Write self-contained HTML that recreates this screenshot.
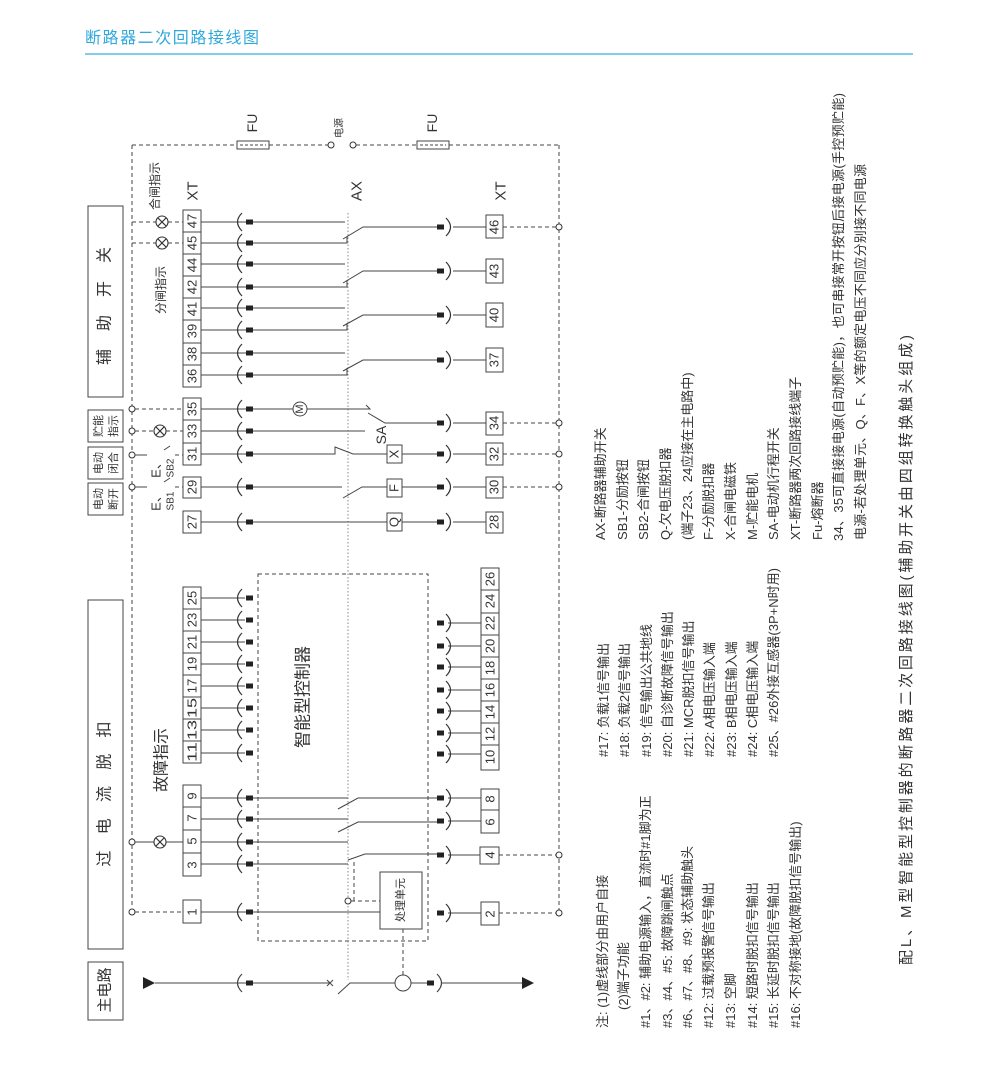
<!DOCTYPE html>
<html><head><meta charset="utf-8"><style>
html,body{margin:0;padding:0;background:#fff;}
body{width:1007px;height:1078px;overflow:hidden;position:relative;}
svg{position:absolute;left:0;top:0;}
text{font-family:"Liberation Sans","Noto Sans CJK SC",sans-serif;fill:#333;}
</style></head><body>
<svg width="1007" height="1078" viewBox="0 0 1007 1078" xmlns="http://www.w3.org/2000/svg">
<defs>
<g id="lc"><path d="M242,-9 Q233,0 242,9" fill="none" stroke="#333" stroke-width="1.2"/><rect x="246" y="-2.5" width="7" height="5" fill="#222"/></g>
<g id="rc"><path d="M446,-9 Q455,0 446,9" fill="none" stroke="#333" stroke-width="1.2"/><rect x="437" y="-2.5" width="7" height="5" fill="#222"/></g>
<g id="lamp"><circle r="6" fill="#fff" stroke="#333" stroke-width="1.1"/><path d="M-4.2,-4.2L4.2,4.2M-4.2,4.2L4.2,-4.2" stroke="#333" stroke-width="1.1"/></g>
<circle id="oc" r="3" fill="#fff" stroke="#333" stroke-width="1"/>
</defs>

<text x="85" y="43" font-size="16" style="fill:#2fa8dc" textLength="174" lengthAdjust="spacing">断路器二次回路接线图</text>
<line x1="85" y1="54" x2="913" y2="54" stroke="#3aaee0" stroke-width="1.2"/>

<g stroke="#444" stroke-width="1" fill="none">
<g stroke-dasharray="4,3">
<line x1="132" y1="145" x2="237" y2="145"/><line x1="269" y1="145" x2="328" y2="145"/>
<line x1="356" y1="145" x2="417" y2="145"/><line x1="449" y1="145" x2="559" y2="145"/>
<line x1="132" y1="145" x2="132" y2="907"/><line x1="559" y1="145" x2="559" y2="910"/>
<line x1="132" y1="222" x2="156" y2="222"/><line x1="168" y1="222" x2="183" y2="222"/>
<line x1="132" y1="243" x2="156" y2="243"/><line x1="168" y1="243" x2="183" y2="243"/>
<line x1="135" y1="409" x2="183" y2="409"/>
<line x1="135" y1="431" x2="154" y2="431"/><line x1="166" y1="431" x2="183" y2="431"/>
<line x1="175" y1="455" x2="183" y2="455"/><line x1="175" y1="487" x2="183" y2="487"/>
<line x1="135" y1="912" x2="183" y2="912"/>
<line x1="503" y1="227" x2="556" y2="227"/><line x1="503" y1="423" x2="556" y2="423"/>
<line x1="503" y1="454" x2="556" y2="454"/><line x1="503" y1="487" x2="556" y2="487"/>
<line x1="499" y1="855" x2="556" y2="855"/><line x1="499" y1="913" x2="556" y2="913"/>
<rect x="258" y="574" width="170" height="367"/>
<line x1="354" y1="862" x2="354" y2="901"/><line x1="351" y1="901" x2="380" y2="901"/>
<line x1="403" y1="929" x2="403" y2="975"/>
</g>
<line x1="348" y1="213" x2="348" y2="980" stroke="#888" stroke-dasharray="1.5,2"/>
<rect x="237" y="141" width="32" height="8" fill="#fff"/><line x1="240" y1="145" x2="266" y2="145" stroke-dasharray="3,2"/>
<rect x="417" y="141" width="32" height="8" fill="#fff"/><line x1="420" y1="145" x2="446" y2="145" stroke-dasharray="3,2"/>

<rect x="88" y="206" width="35" height="191"/>
<rect x="88" y="410" width="35" height="32"/>
<rect x="88" y="447" width="35" height="32"/>
<rect x="88" y="483" width="35" height="32"/>
<rect x="88" y="600" width="35" height="349"/>
<rect x="88" y="962" width="35" height="58"/>

<rect x="183" y="210" width="18" height="177" fill="#fff"/>
<path d="M183,232H201M183,254H201M183,276H201M183,298H201M183,320H201M183,343H201M183,365H201"/>
<rect x="183" y="398" width="18" height="67"/><path d="M183,420H201M183,443H201"/>
<rect x="183" y="477" width="18" height="21"/>
<rect x="183" y="511" width="18" height="22"/>
<rect x="183" y="587" width="18" height="176"/>
<path d="M183,609H201M183,631H201M183,653H201M183,675H201M183,697H201M183,719H201M183,741H201"/>
<rect x="183" y="785" width="18" height="91"/><path d="M183,807H201M183,830H201M183,853H201"/>
<rect x="183" y="900" width="18" height="23"/>
<rect x="486" y="215" width="17" height="23"/>
<rect x="486" y="259" width="17" height="24"/>
<rect x="486" y="303" width="17" height="24"/>
<rect x="486" y="348" width="17" height="24"/>
<rect x="486" y="412" width="17" height="23"/>
<rect x="486" y="443" width="17" height="22"/>
<rect x="486" y="477" width="17" height="21"/>
<rect x="486" y="512" width="17" height="21"/>
<rect x="481" y="568" width="18" height="202"/>
<path d="M481,590H499M481,613H499M481,635H499M481,657H499M481,679H499M481,701H499M481,723H499M481,745H499"/>
<rect x="481" y="789" width="18" height="44"/><path d="M481,810H499"/>
<rect x="480" y="847" width="19" height="17"/>
<rect x="481" y="902" width="18" height="23"/>

<path d="M201,222H345M201,243H347V236M343,239L363,227H438M453,227H486"/>
<path d="M201,264H345M201,287H347V280M343,283L363,271H438M453,271H486"/>
<path d="M201,308H345M201,330H347V323M343,326L363,315H438M453,315H486"/>
<path d="M201,353H345M201,375H347V368M343,371L363,360H438M453,360H486"/>
<path d="M201,409H293M307,409H370L366,405M368,413L385,423H438M453,423H486"/>
<path d="M201,431H365"/>
<path d="M201,454H335V447L353,454H387M402,454H438M453,454H486"/>
<path d="M201,487H342M343,498L362,487H387M402,487H438M453,487H486"/>
<path d="M201,522H387M402,522H438M453,522H486"/>
<circle cx="300" cy="409" r="7"/>
<rect x="387" y="445" width="15" height="18" fill="#fff"/>
<rect x="387" y="479" width="15" height="18" fill="#fff"/>
<rect x="387" y="513" width="15" height="18" fill="#fff"/>
<path d="M135,455H147M135,487H147M164,450L170,446M164,482L170,478"/>

<path d="M201,598H245M201,620H245M201,642H245M201,664H245M201,686H245M201,708H245M201,730H245M201,753H245"/>
<path d="M448,623H481M448,646H481M448,667H481M448,690H481M448,711H481M448,733H481M448,754H481"/>
<path d="M201,798H348M338,809L358,798H437M448,798H481"/>
<path d="M201,819H348M338,832L358,822H437M448,821H481"/>
<path d="M135,842H154M166,842H183M201,842H348"/>
<path d="M201,864H348M348,860L365,854H437M448,855H480"/>
<path d="M201,912H380M448,913H481"/>
<rect x="380" y="872" width="42" height="57" fill="#fff"/>

<path d="M155,983H330M327,980L333,986M327,986L333,980M338,994L350,983H395M411,983H427M442,983H522"/>
<circle cx="403" cy="983" r="8"/>
<path d="M242,974 Q233,983 242,992M437,974 Q446,983 437,992" stroke-width="1.2"/>
</g>
<rect x="246" y="980.5" width="7" height="5" fill="#222"/>
<rect x="427" y="980.5" width="7" height="5" fill="#222"/>
<path d="M143,977L155,983L143,989Z" fill="#222"/>
<path d="M522,977L534,983L522,989Z" fill="#222"/>

<use href="#lc" y="222"/><use href="#lc" y="243"/><use href="#lc" y="264"/><use href="#lc" y="287"/>
<use href="#lc" y="308"/><use href="#lc" y="330"/><use href="#lc" y="353"/><use href="#lc" y="375"/>
<use href="#lc" y="409"/><use href="#lc" y="431"/><use href="#lc" y="454"/><use href="#lc" y="487"/><use href="#lc" y="522"/>
<use href="#lc" y="598"/><use href="#lc" y="620"/><use href="#lc" y="642"/><use href="#lc" y="664"/>
<use href="#lc" y="686"/><use href="#lc" y="708"/><use href="#lc" y="730"/><use href="#lc" y="753"/>
<use href="#lc" y="798"/><use href="#lc" y="819"/><use href="#lc" y="842"/><use href="#lc" y="864"/><use href="#lc" y="912"/>
<use href="#rc" y="227"/><use href="#rc" y="271"/><use href="#rc" y="315"/><use href="#rc" y="360"/>
<use href="#rc" y="423"/><use href="#rc" y="454"/><use href="#rc" y="487"/><use href="#rc" y="522"/>
<use href="#rc" y="623"/><use href="#rc" y="646"/><use href="#rc" y="667"/><use href="#rc" y="690"/>
<use href="#rc" y="711"/><use href="#rc" y="733"/><use href="#rc" y="754"/>
<use href="#rc" y="798"/><use href="#rc" y="821"/><use href="#rc" y="855"/><use href="#rc" y="913"/>
<use href="#lamp" x="162" y="222"/><use href="#lamp" x="162" y="243"/>
<use href="#lamp" x="160" y="431"/><use href="#lamp" x="160" y="842"/>
<use href="#oc" x="331" y="145"/><use href="#oc" x="353" y="145"/>
<use href="#oc" x="132" y="409"/><use href="#oc" x="132" y="431"/><use href="#oc" x="132" y="455"/><use href="#oc" x="132" y="487"/>
<use href="#oc" x="132" y="842"/><use href="#oc" x="132" y="912"/>
<use href="#oc" x="559" y="227"/><use href="#oc" x="559" y="423"/><use href="#oc" x="559" y="454"/><use href="#oc" x="559" y="487"/>
<use href="#oc" x="559" y="855"/><use href="#oc" x="559" y="913"/>
<use href="#oc" x="348" y="901"/>

<g text-anchor="middle" dominant-baseline="central" font-size="13">
<text transform="translate(192,221) rotate(-90)">47</text>
<text transform="translate(192,243) rotate(-90)">45</text>
<text transform="translate(192,265) rotate(-90)">44</text>
<text transform="translate(192,287) rotate(-90)">42</text>
<text transform="translate(192,309) rotate(-90)">41</text>
<text transform="translate(192,331) rotate(-90)">39</text>
<text transform="translate(192,354) rotate(-90)">38</text>
<text transform="translate(192,376) rotate(-90)">36</text>
<text transform="translate(192,409) rotate(-90)">35</text>
<text transform="translate(192,431) rotate(-90)">33</text>
<text transform="translate(192,454) rotate(-90)">31</text>
<text transform="translate(192,487) rotate(-90)">29</text>
<text transform="translate(192,522) rotate(-90)">27</text>
<text transform="translate(494,227) rotate(-90)">46</text>
<text transform="translate(494,271) rotate(-90)">43</text>
<text transform="translate(494,315) rotate(-90)">40</text>
<text transform="translate(494,360) rotate(-90)">37</text>
<text transform="translate(494,423) rotate(-90)">34</text>
<text transform="translate(494,454) rotate(-90)">32</text>
<text transform="translate(494,487) rotate(-90)">30</text>
<text transform="translate(494,522) rotate(-90)">28</text>
<text transform="translate(192,598) rotate(-90)">25</text>
<text transform="translate(192,620) rotate(-90)">23</text>
<text transform="translate(192,642) rotate(-90)">21</text>
<text transform="translate(192,664) rotate(-90)">19</text>
<text transform="translate(192,686) rotate(-90)">17</text>
<text transform="translate(192,708) rotate(-90)" textLength="20" lengthAdjust="spacingAndGlyphs">15</text>
<text transform="translate(192,730) rotate(-90)" textLength="20" lengthAdjust="spacingAndGlyphs">13</text>
<text transform="translate(192,752) rotate(-90)" textLength="20" lengthAdjust="spacingAndGlyphs">11</text>
<text transform="translate(192,796) rotate(-90)">9</text>
<text transform="translate(192,818) rotate(-90)">7</text>
<text transform="translate(192,841) rotate(-90)">5</text>
<text transform="translate(192,865) rotate(-90)">3</text>
<text transform="translate(192,912) rotate(-90)">1</text>
<text transform="translate(490,579) rotate(-90)">26</text>
<text transform="translate(490,601) rotate(-90)">24</text>
<text transform="translate(490,623) rotate(-90)">22</text>
<text transform="translate(490,646) rotate(-90)">20</text>
<text transform="translate(490,668) rotate(-90)">18</text>
<text transform="translate(490,690) rotate(-90)">16</text>
<text transform="translate(490,712) rotate(-90)">14</text>
<text transform="translate(490,734) rotate(-90)">12</text>
<text transform="translate(490,757) rotate(-90)">10</text>
<text transform="translate(490,799) rotate(-90)">8</text>
<text transform="translate(490,822) rotate(-90)">6</text>
<text transform="translate(490,855) rotate(-90)">4</text>
<text transform="translate(490,914) rotate(-90)">2</text>
<text transform="translate(394,454) rotate(-90)">X</text>
<text transform="translate(394,488) rotate(-90)">F</text>
<text transform="translate(394,522) rotate(-90)">Q</text>
<text transform="translate(300,409) rotate(-90)" font-size="11">M</text>
<text transform="translate(381,435) rotate(-90)" font-size="14">SA</text>
<text transform="translate(193,191) rotate(-90)" font-size="15">XT</text>
<text transform="translate(357,191) rotate(-90)" font-size="15">AX</text>
<text transform="translate(501,191) rotate(-90)" font-size="15">XT</text>
<text transform="translate(252,123) rotate(-90)" font-size="14">FU</text>
<text transform="translate(432,123) rotate(-90)" font-size="14">FU</text>
<text transform="translate(340,128) rotate(-90)" font-size="10">电源</text>
<text transform="translate(155,186) rotate(-90)" font-size="12">合闸指示</text>
<text transform="translate(161,290) rotate(-90)" font-size="12">分闸指示</text>
<text transform="translate(162,760) rotate(-90)" font-size="16">故障指示</text>
<text transform="translate(303,697) rotate(-90)" font-size="17">智能型控制器</text>
<text transform="translate(401,900) rotate(-90)" font-size="11">处理单元</text>
<text transform="translate(105,306) rotate(-90)" font-size="16" textLength="118" lengthAdjust="spacing">辅 助 开 关</text>
<text transform="translate(105,794) rotate(-90)" font-size="16" textLength="145" lengthAdjust="spacing">过 电 流 脱 扣</text>
<text transform="translate(105,990) rotate(-90)" font-size="15">主电路</text>
<text transform="translate(99,426) rotate(-90)" font-size="11">贮能</text>
<text transform="translate(114,426) rotate(-90)" font-size="11">指示</text>
<text transform="translate(99,463) rotate(-90)" font-size="11">电动</text>
<text transform="translate(114,463) rotate(-90)" font-size="11">闭合</text>
<text transform="translate(99,499) rotate(-90)" font-size="11">电动</text>
<text transform="translate(114,499) rotate(-90)" font-size="11">断开</text>
<text transform="translate(156,467) rotate(-90)" font-size="13">E、</text>
<text transform="translate(171,468) rotate(-90)" font-size="10">SB2</text>
<text transform="translate(156,500) rotate(-90)" font-size="13">E、</text>
<text transform="translate(171,501) rotate(-90)" font-size="10">SB1</text>
</g>

<g font-size="13">
<text transform="translate(605,540) rotate(-90)">AX-断路器辅助开关</text>
<text transform="translate(627,540) rotate(-90)">SB1-分励按钮</text>
<text transform="translate(648,540) rotate(-90)">SB2-合闸按钮</text>
<text transform="translate(670,540) rotate(-90)">Q-欠电压脱扣器</text>
<text transform="translate(692,540) rotate(-90)">(端子23、24应接在主电路中)</text>
<text transform="translate(713,540) rotate(-90)">F-分励脱扣器</text>
<text transform="translate(735,540) rotate(-90)">X-合闸电磁铁</text>
<text transform="translate(757,540) rotate(-90)">M-贮能电机</text>
<text transform="translate(778,540) rotate(-90)">SA-电动机行程开关</text>
<text transform="translate(800,540) rotate(-90)">XT-断路器两次回路接线端子</text>
<text transform="translate(822,540) rotate(-90)">Fu-熔断器</text>
<text transform="translate(843,541) rotate(-90)" textLength="448" lengthAdjust="spacing">34、35可直接接电源(自动预贮能)，也可串接常开按钮后接电源(手控预贮能)</text>
<text transform="translate(865,540) rotate(-90)" textLength="376" lengthAdjust="spacing">电源-若处理单元、Q、F、X等的额定电压不同应分别接不同电源</text>

<text transform="translate(608,757) rotate(-90)">#17:  负载1信号输出</text>
<text transform="translate(629,757) rotate(-90)">#18:  负载2信号输出</text>
<text transform="translate(651,757) rotate(-90)">#19:  信号输出公共地线</text>
<text transform="translate(672,757) rotate(-90)">#20:  自诊断故障信号输出</text>
<text transform="translate(693,757) rotate(-90)">#21:  MCR脱扣信号输出</text>
<text transform="translate(714,757) rotate(-90)">#22:  A相电压输入端</text>
<text transform="translate(736,757) rotate(-90)">#23:  B相电压输入端</text>
<text transform="translate(757,757) rotate(-90)">#24:  C相电压输入端</text>
<text transform="translate(778,757) rotate(-90)">#25、#26外接互感器(3P+N时用)</text>

<text transform="translate(607,1028) rotate(-90)">注:  (1)虚线部分由用户自接</text>
<text transform="translate(628,1010) rotate(-90)">(2)端子功能</text>
<text transform="translate(650,1028) rotate(-90)">#1、#2:  辅助电源输入，直流时#1脚为正</text>
<text transform="translate(672,1028) rotate(-90)">#3、#4、#5:  故障跳闸触点</text>
<text transform="translate(692,1028) rotate(-90)">#6、#7、#8、#9:  状态辅助触头</text>
<text transform="translate(713,1028) rotate(-90)">#12:  过载预报警信号输出</text>
<text transform="translate(735,1028) rotate(-90)">#13:  空脚</text>
<text transform="translate(757,1028) rotate(-90)">#14:  短路时脱扣信号输出</text>
<text transform="translate(778,1028) rotate(-90)">#15:  长延时脱扣信号输出</text>
<text transform="translate(800,1028) rotate(-90)">#16:  不对称接地(故障脱扣信号输出)</text>
</g>
<text transform="translate(911,965) rotate(-90)" font-size="15" textLength="630" lengthAdjust="spacing">配L、M型智能型控制器的断路器二次回路接线图(辅助开关由四组转换触头组成)</text>
</svg>
</body></html>
